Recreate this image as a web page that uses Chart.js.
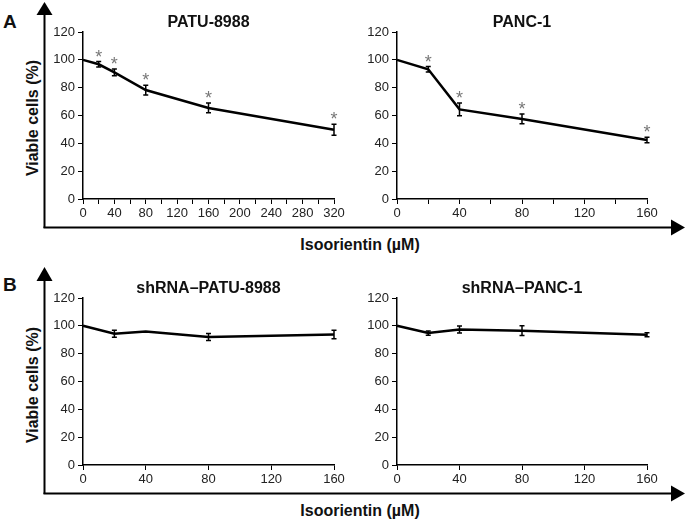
<!DOCTYPE html>
<html>
<head>
<meta charset="utf-8">
<script src="https://cdn.jsdelivr.net/npm/chart.js@4.4.1/dist/chart.umd.min.js"></script>
<style>
  body { margin: 0; background: #fff; }
  #wrap { position: relative; width: 685px; height: 519px; font-family: "Liberation Sans", Arial, sans-serif; }
  canvas { position: absolute; }
  .lbl { position: absolute; font-weight: bold; color: #111; white-space: nowrap; }
  .ytitle { position: absolute; font-weight: bold; font-size: 16px; color: #111; white-space: nowrap;
            transform: translate(-50%, -50%) rotate(-90deg); }
  .xtitle { position: absolute; font-weight: bold; font-size: 16px; color: #111; white-space: nowrap;
            transform: translate(-50%, -50%); }
  svg { position: absolute; left: 0; top: 0; }
</style>
</head>
<body>
<div id="wrap">
  <svg width="685" height="519">
    <!-- outer axes with arrows -->
    <line x1="44.5" y1="12" x2="44.5" y2="228" stroke="#000" stroke-width="2"/>
    <line x1="43.5" y1="227.5" x2="672" y2="227.5" stroke="#000" stroke-width="2"/>
    <polygon points="36.5,15 52.5,15 44.5,2" fill="#000"/>
    <polygon points="671,219.5 671,235.5 685,227.5" fill="#000"/>
    <line x1="44.5" y1="278" x2="44.5" y2="494" stroke="#000" stroke-width="2"/>
    <line x1="43.5" y1="493.5" x2="672" y2="493.5" stroke="#000" stroke-width="2"/>
    <polygon points="36.5,281 52.5,281 44.5,267" fill="#000"/>
    <polygon points="671,485.5 671,501.5 685,493.5" fill="#000"/>
  </svg>
  <div class="lbl" style="left:3px; top:11px; font-size:19px;">A</div>
  <div class="lbl" style="left:3px; top:274px; font-size:19px;">B</div>
  <div class="ytitle" style="left:33px; top:118px;">Viable cells (%)</div>
  <div class="ytitle" style="left:33px; top:385px;">Viable cells (%)</div>
  <div class="xtitle" style="left:360px; top:245px;">Isoorientin (µM)</div>
  <div class="xtitle" style="left:360px; top:511px;">Isoorientin (µM)</div>
  <canvas id="c1" width="300" height="226" style="left:50px; top:0px;"></canvas>
  <canvas id="c2" width="300" height="226" style="left:364px; top:0px;"></canvas>
  <canvas id="c3" width="300" height="226" style="left:50px; top:266px;"></canvas>
  <canvas id="c4" width="300" height="226" style="left:364px; top:266px;"></canvas>
</div>
<script>
// PATU-8988
var dosePatu = [0, 20, 40, 80, 160, 320];
var viablePatu = [100, 96.8, 91.0, 78.3, 65.4, 49.8];
var errPatu = [0, 2, 2.5, 3.5, 3.5, 4];
var starPatu = [false, true, true, true, true, true];

// PANC-1
var dosePanc = [0, 20, 40, 80, 160];
var viablePanc = [100, 93.2, 64.4, 57.5, 42.4];
var errPanc = [0, 2, 4.5, 3.5, 2];
var starPanc = [false, true, true, true, true];

// shRNA-PATU-8988
var doseShPatu = [0, 20, 40, 80, 160];
var viableShPatu = [100, 94.3, 96.0, 92.0, 93.8];
var errShPatu = [0, 2.5, 0, 2.5, 3];

// shRNA-PANC-1
var doseShPanc = [0, 20, 40, 80, 160];
var viableShPanc = [100, 94.8, 97.4, 96.5, 93.6];
var errShPanc = [0, 1.5, 2.5, 3.5, 1.5];

var yTicks = [0, 20, 40, 60, 80, 100, 120];
var fontFam = '"Liberation Sans", Arial, sans-serif';

// error bars + significance stars
var errorBars = {
    id: 'errorBars',
    afterDatasetsDraw: function(chart) {
        var ctx = chart.ctx;
        var xs = chart.scales.x, ys = chart.scales.y;
        var ds = chart.data.datasets[0];
        ctx.save();
        ctx.strokeStyle = '#000';
        ctx.lineWidth = 1.5;
        ds.data.forEach(function(p, i) {
            var e = ds.errors[i];
            var px = xs.getPixelForValue(p.x);
            var top = ys.getPixelForValue(p.y + e);
            var bot = ys.getPixelForValue(p.y - e);
            if (e > 0) {
                ctx.beginPath();
                ctx.moveTo(px, top); ctx.lineTo(px, bot);
                ctx.moveTo(px - 2.5, top); ctx.lineTo(px + 2.5, top);
                ctx.moveTo(px - 2.5, bot); ctx.lineTo(px + 2.5, bot);
                ctx.stroke();
            }
            if (ds.stars && ds.stars[i]) {
                ctx.fillStyle = '#777';
                ctx.font = '18px ' + fontFam;
                ctx.textAlign = 'center';
                ctx.textBaseline = 'alphabetic';
                ctx.fillText('*', px, top + 1);
            }
        });
        ctx.restore();
    }
};

function makePanel(id, title, doses, vals, errs, stars, xMax, xStep, labelStep) {
    var pts = doses.map(function(d, i) { return { x: d, y: vals[i] }; });
    return new Chart(document.getElementById(id), {
        type: 'line',
        data: {
            datasets: [{
                data: pts,
                errors: errs,
                stars: stars,
                borderColor: '#000',
                borderWidth: 2.5,
                pointRadius: 0,
                tension: 0,
                fill: false,
                clip: false
            }]
        },
        options: {
            responsive: false,
            animation: false,
            layout: { padding: { left: 0, right: id === 'c2' || id === 'c4' ? 17 : 16, top: 0, bottom: 0 } },
            plugins: {
                legend: { display: false },
                tooltip: { enabled: false },
                title: {
                    display: true,
                    fullSize: false,
                    text: title,
                    color: '#111',
                    font: { family: fontFam, size: 16, weight: 'bold', lineHeight: 1.2 },
                    padding: { top: 12.8, bottom: 0 }
                }
            },
            scales: {
                x: {
                    type: 'linear',
                    min: 0,
                    max: xMax,
                    afterFit: function(s) { s.height = 27; },
                    border: { display: true, color: '#000', width: 1.5 },
                    grid: { drawOnChartArea: false, drawTicks: true, tickLength: 5, color: '#000' },
                    ticks: {
                        stepSize: xStep,
                        autoSkip: false,
                        maxRotation: 0,
                        padding: 2,
                        color: '#222',
                        font: { family: fontFam, size: 13 },
                        callback: function(v) { return v % labelStep === 0 ? v : ''; }
                    }
                },
                y: {
                    min: 0,
                    max: 120,
                    afterFit: function(s) { s.width = 33; },
                    afterBuildTicks: function(s) { s.ticks = yTicks.map(function(v) { return { value: v }; }); },
                    border: { display: true, color: '#000', width: 1.5 },
                    grid: { drawOnChartArea: false, drawTicks: true, tickLength: 5, color: '#000' },
                    ticks: {
                        padding: 3,
                        color: '#222',
                        font: { family: fontFam, size: 13 }
                    }
                }
            }
        },
        plugins: [errorBars]
    });
}

makePanel('c1', 'PATU-8988', dosePatu, viablePatu, errPatu, starPatu, 320, 20, 40);
makePanel('c2', 'PANC-1', dosePanc, viablePanc, errPanc, starPanc, 160, 20, 40);
makePanel('c3', 'shRNA\u2013PATU-8988', doseShPatu, viableShPatu, errShPatu, null, 160, 40, 40);
makePanel('c4', 'shRNA\u2013PANC-1', doseShPanc, viableShPanc, errShPanc, null, 160, 40, 40);
</script>
</body>
</html>
